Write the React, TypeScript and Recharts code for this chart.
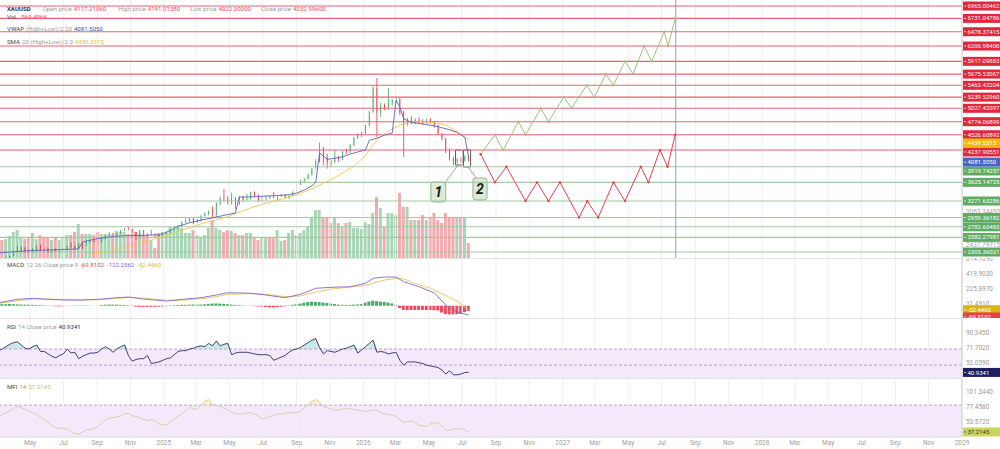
import React from 'react';
import { ComposedChart, Bar, Line, Area, XAxis, YAxis, ReferenceLine, ReferenceArea, Cell } from 'recharts';

const FONT = 'Roboto, "Noto Sans", Arial, sans-serif';
const DAY = 86400000;
const WEEK = 7 * DAY;
const FIRST_WEEK = Date.UTC(2024, 2, 4);
const X_DOMAIN: [number, number] = [Date.UTC(2024, 2, 7), Date.UTC(2029, 0, 1)];
const weekTime = (i: number) => FIRST_WEEK + i * WEEK;

const tickMonths = [
  '2024-05', '2024-07', '2024-09', '2024-11', '2025-01', '2025-03', '2025-05', '2025-07', '2025-09', '2025-11',
  '2026-01', '2026-03', '2026-05', '2026-07', '2026-09', '2026-11', '2027-01', '2027-03', '2027-05', '2027-07',
  '2027-09', '2027-11', '2028-01', '2028-03', '2028-05', '2028-07', '2028-09', '2028-11', '2029-01',
];
const monthNames = ['Jan', 'Feb', 'Mar', 'Apr', 'May', 'Jun', 'Jul', 'Aug', 'Sep', 'Oct', 'Nov', 'Dec'];

// weekly candles [open, high, low, close], first week 2024-03-04
const candles: number[][] = [
  [2083, 2195, 2078, 2179], [2179, 2188, 2146, 2155], [2155, 2222, 2146, 2165], [2165, 2236, 2160, 2230],
  [2230, 2305, 2228, 2330], [2330, 2431, 2325, 2344], [2344, 2418, 2325, 2391], [2391, 2392, 2291, 2337],
  [2337, 2352, 2285, 2301], [2301, 2378, 2298, 2360], [2360, 2422, 2346, 2415], [2415, 2450, 2325, 2334],
  [2334, 2364, 2320, 2327], [2327, 2387, 2286, 2293], [2293, 2335, 2287, 2333], [2333, 2368, 2316, 2322],
  [2322, 2339, 2293, 2326], [2326, 2392, 2319, 2392], [2392, 2424, 2353, 2411], [2411, 2483, 2393, 2400],
  [2400, 2432, 2353, 2386], [2386, 2477, 2365, 2443], [2443, 2477, 2364, 2431], [2431, 2509, 2425, 2507],
  [2507, 2531, 2470, 2512], [2512, 2526, 2488, 2503], [2503, 2529, 2471, 2497], [2497, 2586, 2485, 2577],
  [2577, 2626, 2546, 2622], [2622, 2685, 2620, 2658], [2658, 2672, 2624, 2653], [2653, 2668, 2603, 2657],
  [2657, 2722, 2645, 2721], [2721, 2758, 2707, 2747], [2747, 2790, 2723, 2737], [2737, 2750, 2643, 2684],
  [2684, 2685, 2537, 2563], [2563, 2721, 2560, 2716], [2716, 2722, 2605, 2650], [2650, 2657, 2614, 2633],
  [2633, 2726, 2630, 2648], [2648, 2660, 2583, 2622], [2622, 2640, 2600, 2621], [2621, 2665, 2605, 2640],
  [2640, 2697, 2636, 2690], [2690, 2726, 2657, 2703], [2703, 2786, 2699, 2771], [2771, 2817, 2730, 2800],
  [2800, 2886, 2790, 2861], [2861, 2942, 2858, 2883], [2883, 2955, 2880, 2936], [2936, 2956, 2832, 2858],
  [2858, 2930, 2855, 2910], [2910, 3005, 2880, 2984], [2984, 3057, 2980, 3023], [3023, 3086, 3000, 3085],
  [3085, 3167, 2956, 3037], [3037, 3245, 2970, 3237], [3237, 3357, 3195, 3327], [3327, 3500, 3260, 3319],
  [3319, 3368, 3202, 3240], [3240, 3435, 3202, 3325], [3325, 3345, 3120, 3203], [3203, 3365, 3195, 3357],
  [3357, 3365, 3245, 3289], [3289, 3403, 3281, 3310], [3310, 3446, 3300, 3433], [3433, 3452, 3340, 3368],
  [3368, 3398, 3255, 3274], [3274, 3365, 3247, 3337], [3337, 3375, 3283, 3355], [3355, 3375, 3310, 3350],
  [3350, 3439, 3325, 3337], [3337, 3363, 3268, 3363], [3363, 3409, 3350, 3398], [3398, 3404, 3330, 3336],
  [3336, 3379, 3311, 3371], [3371, 3453, 3365, 3448], [3448, 3600, 3435, 3586], [3586, 3675, 3575, 3643],
  [3643, 3707, 3630, 3685], [3685, 3790, 3680, 3760], [3760, 3897, 3755, 3886], [3886, 4060, 3885, 4018],
  [4018, 4380, 4000, 4250], [4250, 4300, 3950, 4112], [4112, 4160, 3886, 4002], [4002, 4050, 3930, 4000],
  [4000, 4245, 3990, 4085], [4085, 4130, 4010, 4065], [4065, 4220, 4040, 4218], [4218, 4260, 4160, 4198],
  [4198, 4350, 4180, 4330], [4330, 4480, 4310, 4470], [4470, 4550, 4440, 4520], [4520, 4580, 4480, 4560],
  [4560, 4720, 4540, 4700], [4700, 4980, 4690, 4960], [4960, 5440, 4940, 5410], [5410, 5600, 4480, 4940],
  [4940, 5130, 4860, 5080], [5080, 5120, 4990, 5030], [5030, 5410, 5000, 5120], [5120, 5200, 5080, 5180],
  [5180, 5250, 5120, 5200], [5200, 5230, 4900, 4950], [4950, 4980, 4105, 4730], [4730, 4850, 4700, 4820],
  [4820, 4880, 4720, 4760], [4760, 4840, 4720, 4810], [4810, 4860, 4750, 4790], [4790, 4820, 4720, 4760],
  [4760, 4830, 4740, 4800], [4800, 4840, 4740, 4770], [4770, 4790, 4660, 4700], [4700, 4720, 4520, 4540],
  [4540, 4560, 4420, 4450], [4450, 4470, 4180, 4230], [4230, 4270, 4040, 4070], [4070, 4110, 3950, 4010],
  [4010, 4090, 3980, 4060], [4060, 4100, 4000, 4040], [4040, 4140, 4020, 4117], [4117.2, 4141.0, 4022.0, 4033.0],
];

// weekly volume, thousands
const volume = [
  610, 680, 720, 840, 990, 1060, 800, 720, 800, 950,
  720, 870, 800, 760, 680, 760, 680, 760, 870, 870,
  990, 1290, 910, 910, 910, 870, 990, 910, 910, 910,
  910, 1030, 990, 990, 910, 910, 990, 910, 870, 870,
  680, 380, 950, 990, 950, 1180, 1060, 1140, 1140, 950,
  950, 1060, 870, 800, 870, 1140, 1440, 1140, 1060, 990,
  1060, 1030, 950, 870, 870, 950, 950, 800, 680, 760,
  760, 760, 760, 1060, 650, 680, 950, 1060, 870, 950,
  1060, 1180, 1560, 1820, 1820, 1520, 1560, 1330, 1520, 1330,
  1180, 1330, 1370, 1140, 1140, 1100, 1370, 1290, 1710, 2320,
  1900, 1180, 1710, 1710, 1630, 2470, 1940, 1940, 1440, 1440,
  1440, 1630, 1440, 1520, 1710, 1440, 1330, 1710, 1560, 1560,
  1560, 1560, 1560, 569,
];

// [week index, value]
const vwap = [
  [0, 2290], [4, 2310], [8, 2330], [12, 2340], [16, 2350], [21, 2365], [22, 2495], [24, 2530], [27, 2570],
  [30, 2600], [33, 2615], [37, 2620], [42, 2630], [44, 2680], [47, 2790], [50, 2860], [53, 2910], [56, 2950],
  [59, 3000], [62, 3045], [63, 3345], [66, 3350], [70, 3365], [74, 3380], [76, 3390], [78, 3420], [80, 3480],
  [82, 3560], [83, 3630], [84, 4180], [86, 4060], [88, 4080], [90, 4110], [92, 4160], [94, 4200], [96, 4240],
  [97, 4420], [99, 4460], [101, 4520], [103, 4560], [104, 5180], [105, 5050], [106, 4830], [108, 4760],
  [112, 4720], [115, 4680], [118, 4620], [120, 4570], [122, 4480], [123, 4081.505],
];
const sma = [
  [24, 2270], [27, 2300], [30, 2330], [33, 2390], [36, 2450], [39, 2510], [42, 2580], [45, 2650], [48, 2720],
  [51, 2790], [54, 2860], [57, 2920], [60, 2975], [63, 3060], [66, 3140], [69, 3210], [72, 3270], [75, 3320],
  [78, 3390], [81, 3470], [84, 3575], [87, 3680], [90, 3800], [93, 3930], [96, 4130], [98, 4340], [100, 4490],
  [102, 4600], [105, 4710], [108, 4765], [111, 4775], [114, 4760], [117, 4710], [120, 4580], [122, 4470],
  [123, 4439.5315],
];

const resistance = [
  '6965.00462', '6731.04786', '6478.37415', '6206.98408', '5917.09883', '5675.53067',
  '5463.42204', '5239.52960', '5027.42097', '4774.06899', '4526.60892', '4237.90551',
];
const support = ['3919.74257', '3625.14725', '3271.63286', '2959.36182', '2782.60483', '2582.27981', '2305.36021'];
const greyPriceTicks = ['3063.34450', '2437.79715'];

const upPath: [string, number][] = [
  ['2026-08-04', 4156], ['2026-08-30', 4526.6], ['2026-09-14', 4237.9], ['2026-10-12', 4774.1],
  ['2026-10-25', 4526.6], ['2026-11-22', 5027.4], ['2026-12-06', 4774.1], ['2027-01-03', 5239.5],
  ['2027-01-17', 5027.4], ['2027-02-14', 5463.4], ['2027-02-28', 5239.5], ['2027-03-21', 5675.5],
  ['2027-04-04', 5463.4], ['2027-04-25', 5917.1], ['2027-05-10', 5675.5], ['2027-05-30', 6207.0],
  ['2027-06-13', 5917.1], ['2027-07-06', 6478.4], ['2027-07-13', 6207.0], ['2027-07-26', 6731.0],
];
const downPath: [string, number][] = [
  ['2026-08-04', 4156], ['2026-08-30', 3625.1], ['2026-09-20', 3919.7], ['2026-10-25', 3271.6],
  ['2026-11-15', 3625.1], ['2026-12-06', 3271.6], ['2026-12-27', 3625.1], ['2027-01-31', 2959.4],
  ['2027-02-15', 3271.6], ['2027-03-07', 2959.4], ['2027-04-04', 3625.1], ['2027-04-25', 3271.6],
  ['2027-05-24', 3919.7], ['2027-06-07', 3625.1], ['2027-06-28', 4237.9], ['2027-07-12', 3919.7],
  ['2027-07-26', 4526.6],
];
const projectionEnd = '2027-07-27';

const macd = [
  [0, 40], [5, 84], [9, 98], [13, 84], [18, 75], [22, 75], [27, 88], [31, 106], [34, 115], [38, 88], [44, 62],
  [48, 84], [53, 106], [57, 141], [60, 172], [66, 164], [70, 141], [75, 106], [79, 150], [83, 230], [87, 243],
  [92, 251], [96, 296], [98, 362], [101, 379], [104, 379], [106, 317], [110, 251], [114, 170], [117, 9],
  [119, -60], [121, -100], [123, -122.2562],
];
const signal = [
  [0, 30], [5, 65], [9, 88], [13, 88], [18, 80], [22, 76], [27, 80], [31, 95], [34, 108], [38, 100], [44, 72],
  [48, 72], [53, 92], [57, 120], [60, 150], [66, 162], [70, 150], [75, 120], [79, 128], [83, 180], [87, 220],
  [92, 245], [96, 268], [98, 300], [101, 339], [104, 362], [106, 355], [109, 296], [113, 230], [118, 110],
  [120, 60], [122, -20], [123, -52.446],
];
const hist = [
  15, 18, 20, 22, 20, 18, 16, 15, 14, 12, 10, 8, 5, 3, -4, -8, -10, -6,
  2, 3, 3, 4, 5, 4, 3, 2, 3, 10, 14, 16, 15, 14, 12, 10, 6,
  -5, -12, -15, -14, -16, -15, -14, -12, -10, -6,
  5, 8, 10, 12, 12, 14, 15, 16, 15, 18, 25, 28, 30, 28, 25, 20, 15, 10, 8, 5, 2, -3, -6,
  -10, -14, -18, -22, -22, -18, -14, -8, 5, 12, 20, 28,
  40, 48, 53, 50, 48, 42, 35, 28, 22, 15, 12, 10, 12, 14, 16, 20,
  40, 55, 66, 60, 55, 50, 42, 30, 10,
  -30, -55, -58, -57, -56, -55, -55, -57, -58, -60, -62,
  -90, -110, -114, -114, -112, -110, -85, -69.81,
];
const rsi = [
  68, 70, 73, 76, 78, 79, 75, 71, 70, 73, 75, 67, 67, 64, 61, 59, 62, 64, 70, 65,
  66, 58, 61, 63, 65, 65, 66, 70, 73, 70, 66, 70, 73, 75, 62, 55, 57, 58, 58, 62,
  52, 53, 54, 56, 58, 59, 63, 67, 68, 68, 70, 71, 73, 74, 73, 77, 74, 80, 74, 76,
  77, 63, 65, 66, 66, 66, 65, 64, 63, 63, 63, 62, 56, 58, 60, 62, 66, 69, 70, 72,
  75, 78, 81, 83, 72, 64, 68, 67, 66, 68, 70, 71, 73, 75, 65, 69, 73, 77, 81, 66,
  67, 66, 64, 65, 66, 56, 50, 54, 54, 54, 53, 52, 50, 49, 48, 47, 44, 39, 43, 38,
  38, 39, 41, 40.9341,
];
const mfi = [
  62, 65, 68, 71, 74, 78, 76, 73, 71, 68, 65, 61, 57, 52, 47, 44, 43, 43, 42, 37,
  35, 34, 37, 41, 41, 42, 46, 51, 56, 60, 60, 61, 63, 66, 67, 63, 62, 60, 57, 55,
  57, 55, 50, 49, 48, 53, 58, 62, 66, 71, 76, 74, 73, 81, 86, 89, 81, 79, 78, 75,
  73, 68, 67, 66, 66, 67, 68, 66, 62, 58, 60, 62, 64, 66, 66, 67, 68, 68, 68, 70,
  76, 81, 86, 89, 85, 78, 76, 74, 72, 72, 74, 75, 74, 73, 72, 71, 70, 71, 72, 72,
  69, 66, 65, 64, 62, 57, 52, 54, 55, 52, 48, 47, 46, 50, 52, 51, 47, 40, 40, 42,
  42, 43, 40, 37.2145,
];

const macdAxis = ['614.1090', '419.9030', '225.8970', '31.4910'];
const rsiAxis = ['90.3450', '71.7020', '53.0590'];
const mfiAxis = ['101.3440', '77.4580', '53.5720'];

const UP = '#3aa35c';
const DOWN = '#e5323f';
const TAG_RED = '#e3263b';
const TAG_GREEN = '#5fab62';

const tickTimes = tickMonths.map((s) => Date.UTC(+s.slice(0, 4), +s.slice(5, 7) - 1, 1));
const priceRows = candles.map(([o, h, l, c], i) => ({ t: weekTime(i), o, h, l, c, v: volume[i] }));
const pairRows = (pts: number[][]) => pts.map(([i, p]) => ({ t: weekTime(i), p }));
const pathRows = (pts: [string, number][]) => pts.map(([d, p]) => ({ t: Date.parse(d), p }));
const indRows = rsi.map((r, i) => ({ t: weekTime(i), rsi: r, mfi: mfi[i], hist: hist[i] }));

type Tag = { v: number; text: string; bg?: string; fg: string };
const nudge: Record<string, number> = { '4439.5315': 3.6, '4237.90551': 2, '4081.5050': 3.8, '3919.74257': 4.2, '-69.8102': 6 };

function tagTick(tags: Tag[]) {
  const byValue = new Map(tags.map((t) => [t.v, t]));
  return (props: any) => {
    const { x, y, payload } = props;
    const tag = byValue.get(payload.value);
    if (!tag) return null;
    const cy = y + (nudge[tag.text] || 0);
    return (
      <g>
        {tag.bg && <rect x={x + 1} y={cy - 4.5} width={37} height={9} fill={tag.bg} />}
        {tag.bg && <line x1={x + 2} x2={x + 4} y1={cy} y2={cy} stroke={tag.fg} strokeWidth={0.7} />}
        <text x={x + (tag.bg ? 5.5 : 4)} y={cy} dy="0.35em" fontSize={tag.bg ? 6 : 6.4} fill={tag.fg} fontFamily={FONT}>
          {tag.text}
        </text>
      </g>
    );
  };
}

const priceTags: Tag[] = [
  ...greyPriceTicks.map((s) => ({ v: +s, text: s, fg: '#a5a5a5' })),
  ...resistance.map((s) => ({ v: +s, text: s, bg: TAG_RED, fg: '#fff' })),
  ...support.map((s) => ({ v: +s, text: s, bg: TAG_GREEN, fg: '#fff' })),
  { v: 4439.5315, text: '4439.5315', bg: '#f2b80e', fg: '#fff' },
  { v: 4081.505, text: '4081.5050', bg: '#4466c8', fg: '#fff' },
];
const axisTags = (vals: string[]) => vals.map((s) => ({ v: +s, text: s, fg: '#9a9a9a' }));
const macdTags: Tag[] = [...axisTags(macdAxis), { v: -52.446, text: '-52.4460', bg: '#d9b614', fg: '#fff' }, { v: -69.8102, text: '-69.8102', bg: '#e8404f', fg: '#fff' }];
const rsiTags: Tag[] = [...axisTags(rsiAxis), { v: 40.9341, text: '40.9341', bg: '#1d1f5f', fg: '#fff' }];
const mfiTags: Tag[] = [...axisTags(mfiAxis), { v: 37.2145, text: '37.2145', bg: '#c9d45c', fg: '#333' }];

const Candle = (props: any) => {
  const { x, y, width, height, payload } = props;
  if (x == null || !payload) return null;
  const top = height < 0 ? y + height : y;
  const span = Math.abs(height);
  const k = span / Math.max(payload.h - payload.l, 1e-6);
  const yO = top + (payload.h - payload.o) * k;
  const yC = top + (payload.h - payload.c) * k;
  const color = payload.c >= payload.o ? UP : DOWN;
  const cx = x + width / 2;
  return (
    <g>
      <line x1={cx} x2={cx} y1={top} y2={top + span} stroke={color} strokeWidth={0.8} />
      <rect x={x} y={Math.min(yO, yC)} width={width} height={Math.max(Math.abs(yC - yO), 0.8)} fill={color} />
    </g>
  );
};

const grid = (xId: string, yId: string) =>
  tickTimes.map((t) => <ReferenceLine key={'g' + t} x={t} xAxisId={xId} yAxisId={yId} stroke="#efefef" />);

const rightAxis = (id: string, domain: number[], tags: Tag[]) => (
  <YAxis
    yAxisId={id}
    orientation="right"
    width={38}
    type="number"
    domain={domain}
    allowDataOverflow
    ticks={tags.map((t) => t.v)}
    interval={0}
    tick={tagTick(tags)}
    tickSize={0}
    tickMargin={0}
    tickLine={false}
    axisLine={{ stroke: '#cfcfcf' }}
  />
);

function PriceChart() {
  return (
    <ComposedChart width={1000} height={258} data={priceRows} margin={{ top: 0, right: 0, bottom: 0, left: 0 }}>
      <XAxis xAxisId="p" dataKey="t" type="number" domain={X_DOMAIN} allowDataOverflow hide />
      <XAxis xAxisId="v" dataKey="t" type="number" domain={X_DOMAIN} allowDataOverflow hide />
      {rightAxis('p', [2192, 7079], priceTags)}
      <YAxis yAxisId="v" hide domain={[0, 9800]} />
      {grid('p', 'p')}
      <Bar xAxisId="v" yAxisId="v" dataKey="v" barSize={3} activeBar={false} isAnimationActive={false}>
        {priceRows.map((r, i) => (
          <Cell key={i} fill={r.c >= r.o ? 'rgba(58,163,92,0.45)' : 'rgba(229,50,63,0.42)'} />
        ))}
      </Bar>
      {resistance.map((s) => (
        <ReferenceLine key={s} xAxisId="p" yAxisId="p" y={+s} stroke="#ec6172" strokeWidth={1.1} />
      ))}
      {support.map((s) => (
        <ReferenceLine key={s} xAxisId="p" yAxisId="p" y={+s} stroke="#a2c9a0" strokeWidth={1.1} />
      ))}
      <ReferenceLine xAxisId="p" yAxisId="p" x={Date.parse(projectionEnd)} stroke="#79a7c6" />
      <Bar xAxisId="p" yAxisId="p" dataKey={(d: any) => [d.l, d.h]} barSize={3} shape={Candle} activeBar={false} isAnimationActive={false} />
      <Line xAxisId="p" yAxisId="p" data={pairRows(sma)} dataKey="p" stroke="#f0c457" strokeWidth={0.9} dot={false} activeDot={false} isAnimationActive={false} />
      <Line xAxisId="p" yAxisId="p" data={pairRows(vwap)} dataKey="p" stroke="#5b63b8" strokeWidth={0.9} dot={false} activeDot={false} isAnimationActive={false} />
      <Line xAxisId="p" yAxisId="p" data={pathRows(upPath)} dataKey="p" stroke="#9fc27f" strokeWidth={1}
        dot={{ r: 1.2, fill: '#9fc27f', strokeWidth: 0 }} activeDot={false} isAnimationActive={false} />
      <Line xAxisId="p" yAxisId="p" data={pathRows(downPath)} dataKey="p" stroke="#e8404f" strokeWidth={1}
        dot={{ r: 1.2, fill: '#e8404f', strokeWidth: 0 }} activeDot={false} isAnimationActive={false} />
      <ReferenceArea xAxisId="p" yAxisId="p" x1={weekTime(119.55)} x2={weekTime(121.45)} y1={3954} y2={4238} fill="none" stroke="#333" strokeWidth={0.8} />
      <ReferenceArea xAxisId="p" yAxisId="p" x1={weekTime(121.6)} x2={weekTime(123.5)} y1={3916} y2={4238} fill="none" stroke="#333" strokeWidth={0.8} />
      <ReferenceLine xAxisId="p" yAxisId="p" segment={[{ x: weekTime(116.8), y: 3613 }, { x: weekTime(120.2), y: 3954 }]} stroke="#8a8a8a" strokeWidth={0.8} />
      <ReferenceLine xAxisId="p" yAxisId="p" segment={[{ x: weekTime(124.9), y: 3707 }, { x: weekTime(122.8), y: 3920 }]} stroke="#8a8a8a" strokeWidth={0.8} />
      <ReferenceArea xAxisId="p" yAxisId="p" x1={weekTime(113.1)} x2={weekTime(117.0)} y1={3253} y2={3632}
        fill="#b9d5b2" stroke="#93b78e" radius={3}
        label={{ value: '1', position: 'center', fontSize: 14, fontWeight: 700, fontStyle: 'italic', fill: '#1a1a1a' }} />
      <ReferenceArea xAxisId="p" yAxisId="p" x1={weekTime(124.1)} x2={weekTime(127.8)} y1={3291} y2={3707}
        fill="#b9d5b2" stroke="#93b78e" radius={3}
        label={{ value: '2', position: 'center', fontSize: 14, fontWeight: 700, fontStyle: 'italic', fill: '#1a1a1a' }} />
    </ComposedChart>
  );
}

function MacdChart() {
  return (
    <ComposedChart width={1000} height={60} data={indRows} margin={{ top: 0, right: 0, bottom: 0, left: 0 }}>
      <XAxis xAxisId="m" dataKey="t" type="number" domain={X_DOMAIN} allowDataOverflow hide />
      {rightAxis('m', [-162, 630], macdTags)}
      {grid('m', 'm')}
      <Bar xAxisId="m" yAxisId="m" dataKey="hist" barSize={3} activeBar={false} isAnimationActive={false}>
        {indRows.map((r, i) => (
          <Cell key={i} fill={r.hist >= 0 ? '#47a967' : '#ee4a5d'} />
        ))}
      </Bar>
      <Line xAxisId="m" yAxisId="m" data={pairRows(signal)} dataKey="p" stroke="#efc05a" strokeWidth={0.9} dot={false} activeDot={false} isAnimationActive={false} />
      <Line xAxisId="m" yAxisId="m" data={pairRows(macd)} dataKey="p" stroke="#7f6acb" strokeWidth={0.9} dot={false} activeDot={false} isAnimationActive={false} />
    </ComposedChart>
  );
}

function RsiChart() {
  return (
    <ComposedChart width={1000} height={60} data={indRows} margin={{ top: 0, right: 0, bottom: 0, left: 0 }}>
      <XAxis xAxisId="r" dataKey="t" type="number" domain={X_DOMAIN} allowDataOverflow hide />
      {rightAxis('r', [34.0, 108.6], rsiTags)}
      <ReferenceArea xAxisId="r" yAxisId="r" y1={30} y2={70} fill="#f3e9fb" fillOpacity={1} ifOverflow="hidden" />
      {grid('r', 'r')}
      <ReferenceLine xAxisId="r" yAxisId="r" y={70} stroke="#b8a6cc" strokeDasharray="3 2" />
      <ReferenceLine xAxisId="r" yAxisId="r" y={50} stroke="#b8a6cc" strokeDasharray="3 2" />
      <Area xAxisId="r" yAxisId="r" dataKey={(d: any) => [70, Math.max(70, d.rsi)]} stroke="none" fill="#9fd8d0"
        fillOpacity={0.55} dot={false} activeDot={false} isAnimationActive={false} />
      <Line xAxisId="r" yAxisId="r" dataKey="rsi" stroke="#2e2d66" strokeWidth={0.9} dot={false} activeDot={false} isAnimationActive={false} />
    </ComposedChart>
  );
}

function MfiChart() {
  const fmt = (t: number) => {
    const d = new Date(t);
    const m = d.getUTCMonth();
    return m === 0 ? String(d.getUTCFullYear()) : monthNames[m];
  };
  return (
    <ComposedChart width={1000} height={71} data={indRows} margin={{ top: 0, right: 0, bottom: 0, left: 0 }}>
      <XAxis xAxisId="f" dataKey="t" type="number" domain={X_DOMAIN} allowDataOverflow ticks={tickTimes} interval={0}
        tickFormatter={fmt} height={12} tickSize={0} tickMargin={3} axisLine={{ stroke: '#dcdcdc' }}
        tick={{ fontSize: 6.5, fill: '#a0a0a0', fontFamily: FONT }} />
      {rightAxis('f', [29.2, 123.2], mfiTags)}
      <ReferenceArea xAxisId="f" yAxisId="f" y1={20} y2={80} fill="#f3e9fb" fillOpacity={1} ifOverflow="hidden" />
      {grid('f', 'f')}
      <ReferenceLine xAxisId="f" yAxisId="f" y={80} stroke="#b8a6cc" strokeDasharray="3 2" />
      <Area xAxisId="f" yAxisId="f" dataKey={(d: any) => [80, Math.max(80, d.mfi)]} stroke="none" fill="#f3e7a6"
        fillOpacity={0.6} dot={false} activeDot={false} isAnimationActive={false} />
      <Line xAxisId="f" yAxisId="f" dataKey="mfi" stroke="#d7cba5" strokeWidth={0.9} dot={false} activeDot={false} isAnimationActive={false} />
    </ComposedChart>
  );
}

// one legend row: [text, colour, gap after, bold]
const Row = ({ y, items }: { y: number; items: [string, string, number, boolean?][] }) => (
  <div style={{ position: 'absolute', left: 7, top: y - 4.5, height: 9, display: 'flex', alignItems: 'center', whiteSpace: 'nowrap', fontSize: 6.1, lineHeight: '9px' }}>
    {items.map(([text, color, gap, bold], i) => (
      <span key={i} style={{ color, marginRight: gap, fontWeight: bold ? 700 : 400 }}>{text}</span>
    ))}
  </div>
);

const GREY = '#9a9a9a';
const DARK = '#444';
const VAL_RED = '#e8505c';

export default function App() {
  return (
    <div style={{ position: 'absolute', left: 0, top: 0, width: 1000, height: 449, background: '#fff', overflow: 'hidden', fontFamily: FONT }}>
      <div style={{ position: 'absolute', left: 0, top: 0 }}><PriceChart /></div>
      <div style={{ position: 'absolute', left: 0, top: 258 }}><MacdChart /></div>
      <div style={{ position: 'absolute', left: 0, top: 318 }}><RsiChart /></div>
      <div style={{ position: 'absolute', left: 0, top: 378 }}><MfiChart /></div>
      {[258, 318, 378].map((y) => (
        <div key={y} style={{ position: 'absolute', left: 0, top: y, width: 962, height: 1, background: '#e2e2e2' }} />
      ))}

      <Row y={8} items={[
        ['XAUUSD', '#333', 12, true], ['Open price', GREY, 2], ['4117.21060', VAL_RED, 12],
        ['High price', GREY, 2], ['4141.01380', VAL_RED, 10], ['Low price', GREY, 2], ['4022.00000', VAL_RED, 10],
        ['Close price', GREY, 2], ['4032.99600', VAL_RED, 0],
      ]} />
      <Row y={16.5} items={[['Vol.', DARK, 4], ['569.456K', VAL_RED, 0]]} />
      <Row y={28.5} items={[['VWAP', DARK, 2], ['(High+Low)/2 20', GREY, 2], ['4081.5050', '#4b55a0', 0]]} />
      <Row y={41} items={[['SMA', DARK, 2], ['20 (High+Low)/2 0', GREY, 2], ['4439.5315', '#e5b93c', 0]]} />
      <Row y={264.5} items={[
        ['MACD', DARK, 2], ['12 26 Close price 9', GREY, 2], ['-69.8102', VAL_RED, 3],
        ['-122.2562', '#7f6acb', 3], ['-52.4460', '#e0b838', 0],
      ]} />
      <Row y={326} items={[['RSI', DARK, 2], ['14 Close price', GREY, 2], ['40.9341', '#2e2d66', 0]]} />
      <Row y={386} items={[['MFI', DARK, 2], ['14', GREY, 2], ['37.2145', '#c2c56a', 0]]} />
    </div>
  );
}
